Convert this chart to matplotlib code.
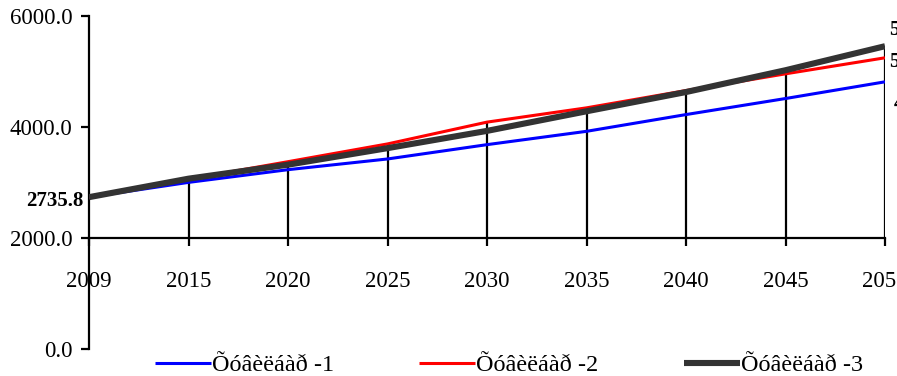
import matplotlib.pyplot as plt
import numpy as np

plt.rcParams["font.family"] = ["Liberation Serif", "DejaVu Serif"]

years = ["2009", "2015", "2020", "2025", "2030", "2035", "2040", "2045", "2050"]
scenario_1 = [2735.8, 3002, 3231, 3424, 3682, 3922, 4224, 4513, 4814]
scenario_2 = [2735.8, 3060, 3375, 3695, 4088, 4345, 4657, 4958, 5247]
scenario_3 = [2735.8, 3069, 3321, 3619, 3930, 4283, 4630, 5023, 5456]
names = ["Õóâèëáàð -1", "Õóâèëáàð -2", "Õóâèëáàð -3"]

W, H = 897, 376
fig = plt.figure(figsize=(W / 100, H / 100), dpi=100)
ax = fig.add_axes([89 / W, (H - 349) / H, (885 - 89) / W, (349 - 16) / H])

x = np.arange(len(years))
series = [scenario_1, scenario_2, scenario_3]
colors = ["#0000ff", "#ff0000", "#333333"]
widths = [2.2, 2.2, 4.4]
handles = []
for vals, c, lw, name in zip(series, colors, widths, names):
    (h,) = ax.plot(x, vals, color=c, linewidth=lw, solid_capstyle="butt", label=name, zorder=3)
    handles.append(h)

# drop lines from the highest series down to the category axis
tops = np.max(np.array(series), axis=0)
ax.vlines(x[1:], 2000, tops[1:], color="black", linewidth=1.6, zorder=2)

for s in ["top", "right"]:
    ax.spines[s].set_visible(False)
ax.spines["bottom"].set_position(("data", 2000))
ax.spines["left"].set_linewidth(1.6)
ax.spines["bottom"].set_linewidth(1.6)

ax.set_xlim(0, len(years) - 1)
ax.set_ylim(0, 6000)
ax.set_yticks([0, 2000, 4000, 6000])
ax.set_yticklabels([f"{v:.1f}" for v in [0, 2000, 4000, 6000]])
ax.set_xticks(x)
ax.set_xticklabels(years)
ax.tick_params(axis="y", length=6, width=1.6, pad=6, labelsize=16.5)
ax.tick_params(axis="x", length=6, width=1.6, pad=18, labelsize=16.5)

# value labels at the start and end of the series
ax.annotate(f"{scenario_1[0]:.1f}", xy=(0, scenario_1[0]), xytext=(-4, -3),
            textcoords="offset points", ha="right", va="center",
            fontsize=15, fontweight="bold", annotation_clip=False)
end_offsets = [(6, -16), (3, -3), (3, 12)]
for vals, off in zip(series, end_offsets):
    ax.annotate(f"{vals[-1]:.1f}", xy=(x[-1], vals[-1]), xytext=off,
                textcoords="offset points", ha="left", va="center",
                fontsize=15, fontweight="bold", annotation_clip=False)

fig.legend(handles=handles, loc="center", bbox_to_anchor=(509 / W, 11 / H),
           ncol=3, frameon=False, fontsize=17.5, handlelength=2.3,
           handletextpad=0.05, columnspacing=3.5, borderpad=0)

fig.savefig("out.png", dpi=100)
